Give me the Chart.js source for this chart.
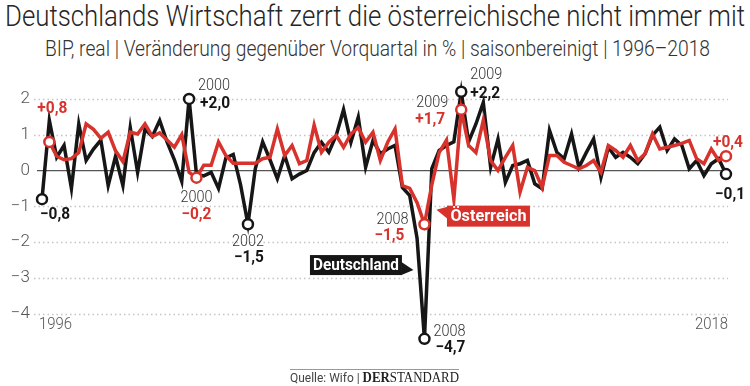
<!DOCTYPE html>
<html lang="de">
<head>
<meta charset="utf-8">
<title>Deutschlands Wirtschaft zerrt die österreichische nicht immer mit</title>
<script src="https://cdn.jsdelivr.net/npm/chart.js@4.4.1/dist/chart.umd.min.js"></script>
<style>
  html, body { margin: 0; padding: 0; background: #fff; }
  body { width: 750px; height: 386px; position: relative; overflow: hidden; font-family: Roboto, "Noto Sans", sans-serif; }
  .fit { position: absolute; white-space: nowrap; display: inline-block; transform-origin: 0 0; }
  #title { left: 5px; top: 1px; font-size: 30px; font-weight: 300; color: #262626; line-height: 30px; }
  #sub { left: 45px; top: 38px; font-size: 22px; font-weight: 300; color: #333; line-height: 22px; }
  #chart { position: absolute; left: 0; top: 0; }
  #rule { position: absolute; left: 290px; top: 369px; width: 169px; border-top: 1px solid #999; }
  #source { left: 290px; top: 371px; font-size: 13px; color: #444; line-height: 14px; }
  .std { font-family: "Liberation Serif", "DejaVu Serif", serif; color: #222; font-size: 14px; }
</style>
</head>
<body>
<div id="title" class="fit">Deutschlands Wirtschaft zerrt die österreichische nicht immer mit</div>
<div id="sub" class="fit">BIP, real | Veränderung gegenüber Vorquartal in % | saisonbereinigt | 1996–2018</div>
<canvas id="chart" width="750" height="386"></canvas>
<div id="rule"></div>
<div id="source" class="fit">Quelle: Wifo | <span class="std"><b>DER</b>STANDARD</span></div>

<script>
// Quarterly GDP growth, % vs previous quarter
const deGrowth = [
  -0.8, 1.4, 0.37, 0.7, -0.5, 1.3, 0.28, 0.6, 0.85, -0.42,
  0.4, -0.42, 1.2, -0.05, 1.15, 0.95, 1.4, 0.8, 0.3, -0.3,
  2.0, -0.1, -0.15, -0.05, -0.5, 0.35, 0.45, -0.4, -1.5, 0.05,
  0.8, 0.3, -0.23, 0.42, -0.23, -0.1, 0.0, 0.5, 0.79, 0.51,
  0.98, 1.7, 0.79, 1.49, 0.09, 0.84, 0.47, 0.6, 0.7, -0.47,
  -0.7, -1.9, -4.7, 0.05, 0.56, 0.7, 0.8, 2.2, 0.8, 1.3,
  1.9, 0.09, 0.88, -0.33, 0.14, 0.19, 0.28, -0.37, -0.51, 1.12,
  0.51, 0.33, 1.02, 0.09, 0.5, 0.88, -0.19, 0.65, 0.37, 0.51,
  0.37, 0.19, 0.47, 0.98, 1.21, 0.56, 0.88, 0.7, 0.05, 0.28,
  -0.14, 0.19, 0.33, -0.1
];
const atGrowth = [
  null, 0.8, 0.4, 0.3, 0.33, 0.5, 1.3, 1.15, 0.9, 1.07,
  0.55, 0.25, 1.07, 1.02, 1.3, 0.95, 1.05, 0.85, 0.65, 1.0,
  -0.05, -0.2, 0.15, 0.15, 0.8, 0.42, 0.2, 0.2, 0.2, 0.2,
  0.33, 0.37, 1.16, 0.42, 0.7, 0.19, 0.28, 1.27, 0.51, 0.79,
  0.98, 0.65, 1.02, 1.2, 0.79, 1.07, 0.28, 0.79, 1.16, -0.42,
  -0.5, -0.9, -1.5, -0.4, 0.5, 0.85, -0.8, 1.7, 0.7, 0.5,
  1.4, 0.28, 0.0, 0.37, 0.7, -0.6, 0.09, 0.0, -0.47, 0.42,
  0.42, 0.23, 0.14, 0.05, 0.14, 0.28, -0.05, 0.7, 0.56, 0.37,
  0.7, 0.28, 0.47, 1.02, 0.6, 0.65, 0.7, 0.76, 0.84, 0.33,
  0.19, 0.6, 0.28, 0.4
];
const quarters = [];
for (let y = 1996; quarters.length < deGrowth.length; y++) {
  for (let q = 1; q <= 4 && quarters.length < deGrowth.length; q++) quarters.push(y + ' Q' + q);
}
const yTicks = [-4, -3, -2, -1, 0, 1, 2];
const edgeYears = ['1996', '2018'];

// highlighted points
const deMarks = [
  { i: 0, year: '' }, { i: 20, year: '2000' }, { i: 28, year: '2002' },
  { i: 52, year: '2008' }, { i: 57, year: '2009' }, { i: 93, year: '' }
];
const atMarks = [
  { i: 1, year: '' }, { i: 21, year: '2000' }, { i: 52, year: '2008' },
  { i: 57, year: '2009' }, { i: 93, year: '' }
];

const RED = '#d7322c';
const BLACK = '#161616';
const LIGHT = '300 16px Roboto, sans-serif';
const BOLD = 'bold 16px Roboto, sans-serif';

// where the callout texts sit relative to their point
const calloutLayout = {
  de0:  { val: [-2, 16, 'left'] },
  de20: { year: [9, -13, 'left'], val: [11, 5, 'left'] },
  de28: { year: [0, 18, 'center'], val: [1, 34, 'center'] },
  de52: { year: [9, -7, 'left'], val: [11, 9, 'left'] },
  de57: { year: [9, -17, 'left'], val: [9, 2, 'left'] },
  de93: { val: [19, 21, 'right'] },
  at1:  { val: [3, -33, 'center'] },
  at21: { year: [0, 20, 'center'], val: [0, 37, 'center'] },
  at52: { year: [-16, -4, 'right'], val: [-20, 12, 'right'] },
  at57: { year: [-13, -7, 'right'], val: [-16, 10, 'right'] },
  at93: { val: [2, -13, 'center'] }
};

function fmt(v) {
  return (v > 0 ? '+' : '−') + Math.abs(v).toFixed(1).replace('.', ',');
}

function txt(ctx, s, x, y, font, color, align, maxW) {
  ctx.font = font;
  ctx.fillStyle = color;
  ctx.textAlign = align || 'left';
  ctx.textBaseline = 'middle';
  if (maxW) ctx.fillText(s, x, y, maxW);
  else ctx.fillText(s, x, y);
}

const decor = {
  id: 'decor',
  beforeDatasetsDraw(chart) {
    const { ctx, scales: { y } } = chart;
    ctx.save();
    ctx.lineWidth = 1.5;
    ctx.strokeStyle = '#c4c4c4';
    ctx.setLineDash([1.5, 3]);
    yTicks.forEach(v => {
      if (v === 0) return;
      const py = Math.round(y.getPixelForValue(v)) + 0.5;
      ctx.beginPath(); ctx.moveTo(34, py); ctx.lineTo(728, py); ctx.stroke();
    });
    ctx.setLineDash([]);
    ctx.strokeStyle = '#555';
    ctx.lineWidth = 1.2;
    const p0 = y.getPixelForValue(0);
    ctx.beginPath(); ctx.moveTo(37, p0); ctx.lineTo(727, p0); ctx.stroke();
    ctx.restore();
  },
  afterDatasetsDraw(chart) {
    const { ctx, scales: { x, y } } = chart;
    ctx.save();

    const put = (key, series, m, valColor) => {
      const lay = calloutLayout[key];
      const px = x.getPixelForValue(m.i);
      const py = y.getPixelForValue(series[m.i]);
      if (lay.year && m.year) txt(ctx, m.year, px + lay.year[0], py + lay.year[1], LIGHT, '#333', lay.year[2], 32);
      txt(ctx, fmt(series[m.i]), px + lay.val[0], py + lay.val[1], BOLD, valColor, lay.val[2], 30);
    };
    deMarks.forEach(m => put('de' + m.i, deGrowth, m, BLACK));
    atMarks.forEach(m => put('at' + m.i, atGrowth, m, RED));

    // edge years
    const yy = y.getPixelForValue(-4.3);
    txt(ctx, edgeYears[0], x.getPixelForValue(0) - 3, yy, '300 17px Roboto, sans-serif', '#555', 'left', 33);
    txt(ctx, edgeYears[1], x.getPixelForValue(quarters.length - 1) + 2, yy, '300 17px Roboto, sans-serif', '#555', 'right', 33);

    // series name tags next to the 2008/09 dip
    const ax = x.getPixelForValue(52);
    const ya = y.getPixelForValue(-1.26);
    ctx.fillStyle = RED;
    ctx.fillRect(ax + 22.5, ya - 10, 83, 21);
    ctx.beginPath();
    ctx.moveTo(ax + 23, ya - 9); ctx.lineTo(ax + 12, ya - 6); ctx.lineTo(ax + 23, ya + 3);
    ctx.closePath(); ctx.fill();
    txt(ctx, 'Österreich', ax + 64, ya + 1, 'bold 17px Roboto, sans-serif', '#fff', 'center', 76);

    const yd = y.getPixelForValue(-2.64);
    ctx.fillStyle = BLACK;
    ctx.fillRect(ax - 114.5, yd - 10, 92, 20);
    ctx.beginPath();
    ctx.moveTo(ax - 23, yd - 3); ctx.lineTo(ax - 11, yd + 5); ctx.lineTo(ax - 23, yd + 10);
    ctx.closePath(); ctx.fill();
    txt(ctx, 'Deutschland', ax - 68.5, yd + 1, 'bold 17px Roboto, sans-serif', '#fff', 'center', 86);
    ctx.restore();
  }
};

const markRadius = marks => c => marks.some(m => m.i === c.dataIndex) ? 5 : 0;

new Chart(document.getElementById('chart'), {
  type: 'line',
  data: {
    labels: quarters,
    datasets: [
      {
        label: 'Österreich',
        data: atGrowth,
        borderColor: RED,
        borderWidth: 3.5,
        borderJoinStyle: 'miter',
        pointRadius: markRadius(atMarks),
        pointHoverRadius: markRadius(atMarks),
        pointBackgroundColor: '#fff',
        pointBorderColor: RED,
        pointBorderWidth: 2.5,
        tension: 0,
        clip: false
      },
      {
        label: 'Deutschland',
        data: deGrowth,
        borderColor: BLACK,
        borderWidth: 3.5,
        borderJoinStyle: 'miter',
        pointRadius: markRadius(deMarks),
        pointHoverRadius: markRadius(deMarks),
        pointBackgroundColor: '#fff',
        pointBorderColor: BLACK,
        pointBorderWidth: 2.5,
        tension: 0,
        clip: false
      }
    ]
  },
  options: {
    responsive: false,
    animation: false,
    events: [],
    layout: { padding: { left: 0, right: 24, top: 81, bottom: 40 } },
    plugins: { legend: { display: false }, tooltip: { enabled: false }, title: { display: false } },
    scales: {
      x: { type: 'category', display: false, offset: false },
      y: {
        min: -4.9,
        max: 2.5,
        afterBuildTicks: s => { s.ticks = yTicks.map(v => ({ value: v })); },
        afterFit: s => { s.width = 42; },
        grid: { display: false, drawTicks: false },
        border: { display: false },
        ticks: {
          padding: 12,
          color: '#555',
          font: { family: 'Roboto', size: 17, weight: '300' },
          callback: v => String(v).replace('-', '−')
        }
      }
    }
  },
  plugins: [decor]
});

function fit(id, w) {
  const el = document.getElementById(id);
  el.style.transform = 'none';
  const nat = el.getBoundingClientRect().width;
  el.style.transform = 'scaleX(' + (w / nat) + ')';
}
function fitAll() {
  fit('title', 740);
  fit('sub', 665);
  fit('source', 169);
}
fitAll();
if (document.fonts) document.fonts.ready.then(fitAll);
</script>
</body>
</html>
